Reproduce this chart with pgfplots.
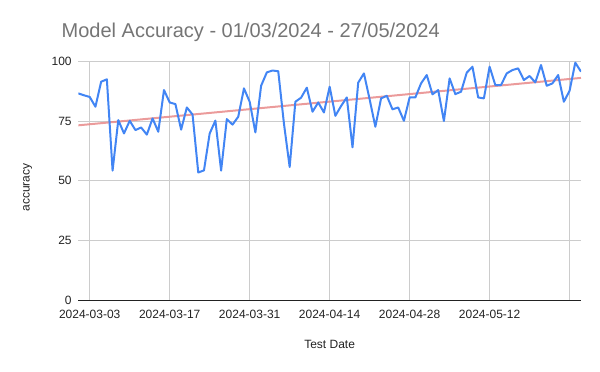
\documentclass[border=0pt]{standalone}
\usepackage{fontspec}
\setmainfont{Liberation Sans}
\usepackage{pgfplots}
\pgfplotsset{compat=1.18}
\definecolor{lineblue}{HTML}{4285F4}
\definecolor{trendred}{HTML}{E88A8A}
\definecolor{gridgray}{HTML}{CCCCCC}
\definecolor{titlegray}{HTML}{757575}
\definecolor{textdark}{HTML}{222222}
\begin{document}
\begin{tikzpicture}[x=1bp,y=1bp]
\path[use as bounding box] (0,0) rectangle (600,371);
\begin{axis}[
  at={(78.3bp,71bp)}, anchor=south west,
  scale only axis, width=502.7bp, height=238.3bp,
  xmin=0, xmax=88, ymin=0, ymax=100,
  xtick={2,16,30,44,58,72,86},
  xticklabels={2024-03-03,2024-03-17,2024-03-31,2024-04-14,2024-04-28,2024-05-12,},
  ytick={0,25,50,75,100},
  grid=major,
  major grid style={draw=gridgray, line width=0.8bp},
  axis x line*=bottom, axis y line*=left,
  x axis line style={draw=textdark, line width=0.9bp},
  y axis line style={draw=none},
  major tick length=0pt, tick style={draw=none},
  /pgf/number format/assume math mode=true,
  xticklabel style={anchor=base, inner sep=0pt, yshift=-18bp, font=\fontsize{12bp}{14bp}\selectfont, text=textdark},
  yticklabel style={anchor=east, inner sep=0pt, xshift=-6.5bp, font=\fontsize{12bp}{14bp}\selectfont, text=textdark},
  line join=round,
]
\addplot[trendred, line width=2bp, opacity=0.85, mark=none] coordinates {(0,73.3) (88,93.2)};
\addplot[lineblue, line width=2bp, mark=none] coordinates {
(0,86.7) (1,85.9) (2,85.2) (3,81.1) (4,91.6) (5,92.6) (6,54.3) (7,75.5) (8,69.9) (9,75.2)
(10,71.3) (11,72.4) (12,69.4) (13,76.2) (14,70.6) (15,88.1) (16,82.9) (17,82.2) (18,71.5) (19,80.8)
(20,77.8) (21,53.5) (22,54.4) (23,69.9) (24,75.3) (25,54.3) (26,75.9) (27,73.6) (28,76.9) (29,88.8)
(30,83.2) (31,70.3) (32,89.9) (33,95.5) (34,96.3) (35,96.0) (36,74.0) (37,55.8) (38,83.2) (39,84.9)
(40,89.1) (41,79.0) (42,82.9) (43,78.7) (44,89.5) (45,77.3) (46,81.4) (47,85.0) (48,64.1) (49,91.2)
(50,95.1) (51,84.2) (52,72.7) (53,84.6) (54,85.7) (55,80.0) (56,80.8) (57,75.2) (58,85.0) (59,85.0)
(60,90.9) (61,94.4) (62,86.3) (63,88.1) (64,75.1) (65,93.0) (66,86.4) (67,87.4) (68,95.4) (69,97.9)
(70,85.0) (71,84.6) (72,97.9) (73,90.2) (74,90.2) (75,95.1) (76,96.5) (77,97.2) (78,92.3) (79,94.0)
(80,91.3) (81,98.6) (82,89.9) (83,90.9) (84,94.4) (85,83.2) (86,87.8) (87,99.6) (88,95.8)
};
\end{axis}
\node[anchor=base west, inner sep=0pt, text=titlegray, font=\fontsize{20bp}{24bp}\selectfont] at (61.5,333.5) {Model Accuracy - 01/03/2024 - 27/05/2024};
\node[anchor=base, inner sep=0pt, rotate=90, text=textdark, font=\fontsize{12bp}{14bp}\selectfont] at (29.5,183.5) {accuracy};
\node[anchor=base, inner sep=0pt, text=textdark, font=\fontsize{12bp}{14bp}\selectfont] at (329.6,22.7) {Test Date};
\end{tikzpicture}
\end{document}
